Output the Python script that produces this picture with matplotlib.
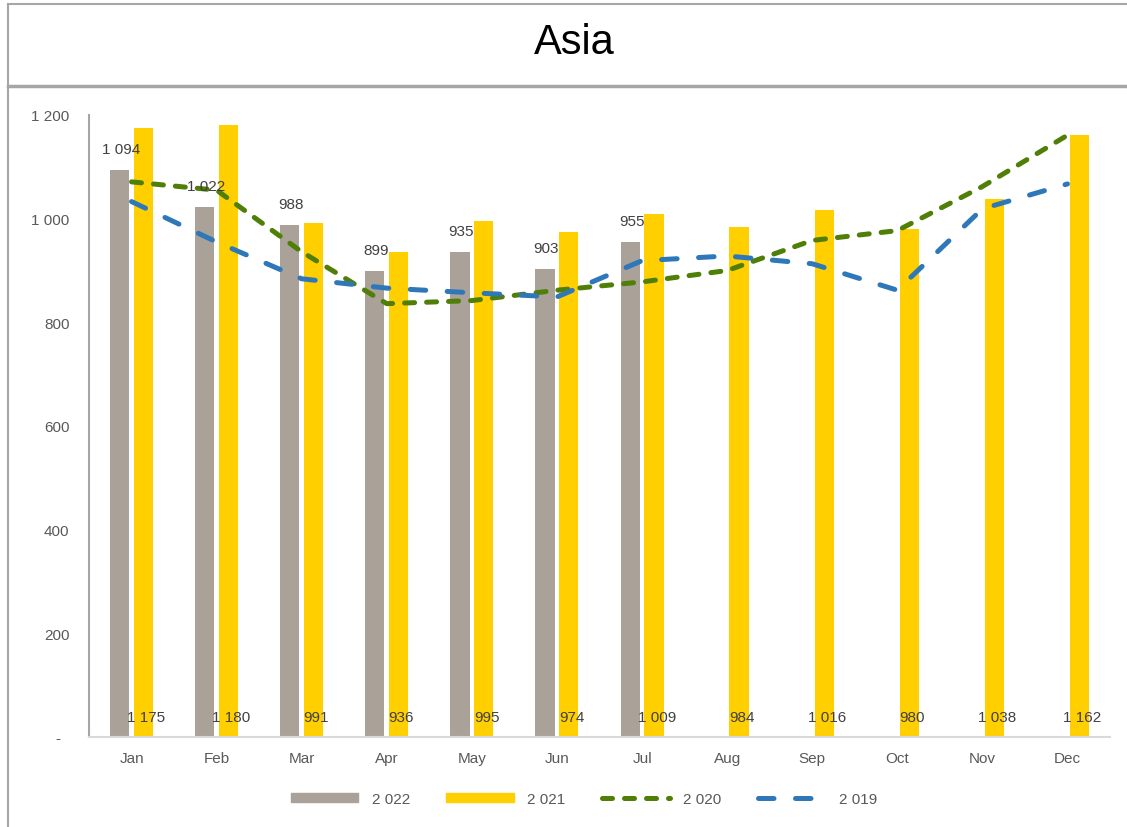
import matplotlib
matplotlib.use("Agg")
import matplotlib.pyplot as plt
from matplotlib.patches import Patch
from matplotlib.lines import Line2D
import numpy as np

plt.rcParams['font.family'] = ['Liberation Sans', 'DejaVu Sans']

months = ["Jan", "Feb", "Mar", "Apr", "May", "Jun", "Jul", "Aug", "Sep", "Oct", "Nov", "Dec"]
y2022 = [1094, 1022, 988, 899, 935, 903, 955]
y2021 = [1175, 1180, 991, 936, 995, 974, 1009, 984, 1016, 980, 1038, 1162]
y2020 = [1071, 1055, 936, 836, 842, 862, 878, 900, 958, 977, 1062, 1161]
y2019 = [1033, 955, 884, 866, 857, 849, 919, 928, 913, 862, 1019, 1067]
yticks = [0, 200, 400, 600, 800, 1000, 1200]

c2022 = "#AAA198"
c2021 = "#FFCF00"
c2020 = "#4F7F06"
c2019 = "#2E78BA"
txt = "#404040"

lw = 3.6
dash20 = (2.0, 2.4)
dash19 = (3.1, 4.3)

def fmt(v):
    return f"{v:,}".replace(",", " ")

fig = plt.figure(figsize=(11.27, 8.28), dpi=100)
ax = fig.add_axes([89/1127, 1-738/828, (1110-89)/1127, (738-116)/828])

x = np.arange(len(months))
bw = 0.225
off = 0.14
ax.bar(x[:len(y2022)] - off, y2022, bw, color=c2022, zorder=2)
ax.bar(x + off, y2021, bw, color=c2021, zorder=2)

ax.plot(x, y2020, color=c2020, lw=lw, dashes=dash20, dash_capstyle='round', zorder=3)
ax.plot(x, y2019, color=c2019, lw=lw, dashes=dash19, dash_capstyle='round', zorder=3)

for xi, v in zip(x, y2022):
    ax.annotate(fmt(v), (xi - off, v), xytext=(1, 10), textcoords='offset points',
                ha='center', va='bottom', fontsize=11, color=txt, zorder=4)
for xi, v in zip(x, y2021):
    ax.annotate(fmt(v), (xi + off, 0), xytext=(2, 14.5), textcoords='offset points',
                ha='center', va='center', fontsize=11, color=txt, zorder=4)

ax.set_xlim(-0.5, 11.5)
ax.set_ylim(0, 1200)
ax.set_xticks(x)
ax.set_xticklabels(months)
ax.set_yticks(yticks)
ax.set_yticklabels(["-  "] + [fmt(t) for t in yticks[1:]])
ax.tick_params(axis='both', length=0, labelsize=11, labelcolor="#595959")
ax.tick_params(axis='y', pad=14)
ax.tick_params(axis='x', pad=10)
for s in ['top', 'right']:
    ax.spines[s].set_visible(False)
ax.spines['left'].set_color("#A6A6A6")
ax.spines['left'].set_linewidth(1.5)
ax.spines['bottom'].set_color("#D9D9D9")
ax.spines['bottom'].set_linewidth(1.5)

handles = [
    Patch(color=c2022),
    Patch(color=c2021),
    Line2D([], [], color=c2020, lw=lw, dashes=dash20, dash_capstyle='round'),
    Line2D([], [], color=c2019, lw=lw, dashes=dash19, dash_capstyle='round'),
]
fig.legend(handles, ["2 022", "2 021", "2 020", "2 019"], loc='center',
           bbox_to_anchor=(584/1127, 1-800/828), ncol=4, frameon=False,
           fontsize=11, labelcolor="#595959", handlelength=4.4,
           handletextpad=0.9, columnspacing=2.4, handleheight=0.5)

fig.text(574/1127, 1-43/828, "Asia", ha='center', va='center', fontsize=30, color="black")

# frame around title and chart
border = "#A6A6A6"
fig.add_artist(Line2D([8/1127, 8/1127], [0, 1-5/828], color=border, lw=1.5, transform=fig.transFigure))
fig.add_artist(Line2D([8/1127, 1], [1-5/828, 1-5/828], color=border, lw=1.5, transform=fig.transFigure))
fig.add_artist(Line2D([8/1127, 1], [1-87/828, 1-87/828], color=border, lw=2.5, transform=fig.transFigure))

fig.savefig("out.png", dpi=100)
